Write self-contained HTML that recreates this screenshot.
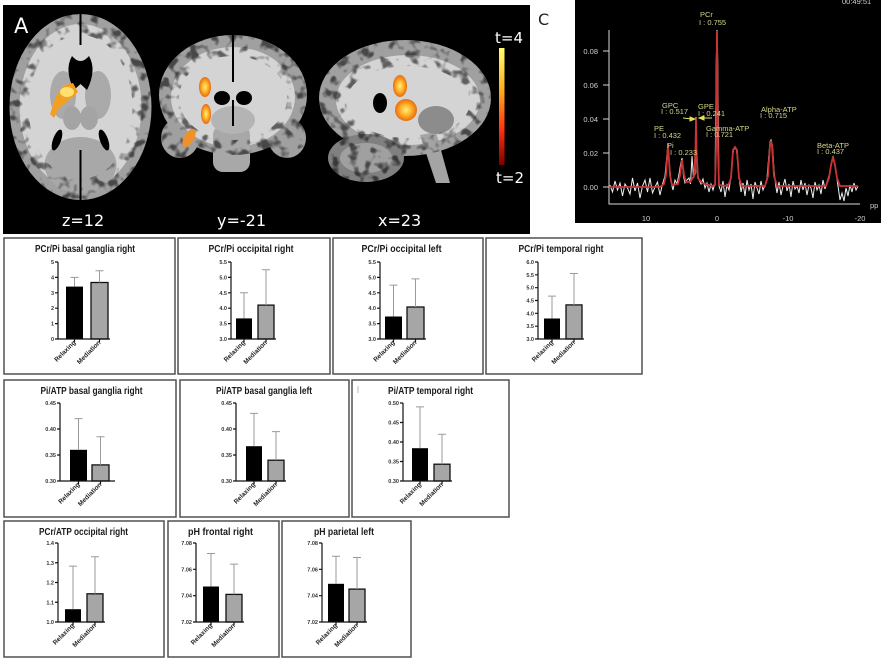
<!DOCTYPE html>
<html><head><meta charset="utf-8"><style>
html,body{margin:0;padding:0;background:#fff;}
svg{display:block;}
.t{font-family:"Liberation Sans",sans-serif;font-weight:bold;fill:#1a1a1a;}
.tk{font-family:"Liberation Sans",sans-serif;font-weight:bold;font-size:5.5px;fill:#333;}
.xl{font-family:"Liberation Sans",sans-serif;font-weight:bold;font-size:6.5px;fill:#222;}
.ax{stroke:#111;stroke-width:1.2;fill:none;}
.eb{stroke:#9a9a9a;stroke-width:1;fill:none;}
.bx{fill:#fff;stroke:#505050;stroke-width:1.5;}
.sp{font-family:"Liberation Sans",sans-serif;font-size:7.5px;fill:#d6d68c;}
.sa{font-family:"Liberation Sans",sans-serif;font-size:7.5px;fill:#d0d0d0;}
.w{font-family:"DejaVu Sans",sans-serif;fill:#fff;}
</style></head><body>
<svg width="883" height="661" viewBox="0 0 883 661" xmlns="http://www.w3.org/2000/svg">
<defs>
<linearGradient id="cb" x1="0" y1="0" x2="0" y2="1">
<stop offset="0" stop-color="#ffff70"/><stop offset="0.35" stop-color="#ffb020"/><stop offset="0.7" stop-color="#ff3010"/><stop offset="1" stop-color="#7a0000"/>
</linearGradient>
<radialGradient id="act"><stop offset="0" stop-color="#ffee80"/><stop offset="0.5" stop-color="#ffb428"/><stop offset="1" stop-color="#e86a10"/></radialGradient>
<filter id="tx" x="0" y="0" width="1" height="1" color-interpolation-filters="sRGB">
<feTurbulence type="fractalNoise" baseFrequency="0.1" numOctaves="2" seed="7"/>
<feColorMatrix type="matrix" values="0 0 0 0 0  0 0 0 0 0  0 0 0 0 0  -5 0 0 0 2.5"/>
</filter>
<mask id="rim" maskUnits="userSpaceOnUse" x="0" y="0" width="540" height="240">
<rect x="0" y="0" width="540" height="240" fill="#000"/>
<g fill="#fff">
<ellipse cx="80.5" cy="107" rx="71" ry="93"/>
<ellipse cx="233" cy="95" rx="74" ry="60"/>
<ellipse cx="180" cy="138" rx="19" ry="20"/>
<ellipse cx="287" cy="138" rx="19" ry="20"/>
<ellipse cx="405" cy="98" rx="86" ry="58"/>
<ellipse cx="366" cy="158" rx="38" ry="24"/>
</g>
<g fill="#000">
<ellipse cx="80.5" cy="107" rx="52" ry="72"/>
<ellipse cx="233" cy="98" rx="54" ry="42"/>
<ellipse cx="408" cy="102" rx="62" ry="36"/>
</g>
</mask>
</defs>
<rect width="883" height="661" fill="#fff"/>

<!-- Panel A -->
<rect x="3" y="5" width="527" height="229" fill="#000"/>
<!-- axial -->
<ellipse cx="80.5" cy="107" rx="71" ry="93" fill="#a0a0a0"/>
<ellipse cx="80.5" cy="107" rx="61" ry="83" fill="#d4d4d4"/>
<ellipse cx="63" cy="95" rx="13" ry="24" fill="#aaaaaa"/>
<ellipse cx="98" cy="95" rx="13" ry="24" fill="#aaaaaa"/>
<ellipse cx="72" cy="118" rx="9" ry="12" fill="#a4a4a4"/>
<ellipse cx="89" cy="118" rx="9" ry="12" fill="#a4a4a4"/>
<ellipse cx="80.5" cy="165" rx="36" ry="28" fill="#a8a8a8"/>
<!-- coronal -->
<ellipse cx="180" cy="138" rx="19" ry="20" fill="#a0a0a0"/>
<ellipse cx="287" cy="138" rx="19" ry="20" fill="#a0a0a0"/>
<ellipse cx="233" cy="95" rx="74" ry="60" fill="#a0a0a0"/>
<ellipse cx="233" cy="97" rx="62" ry="50" fill="#d4d4d4"/>
<rect x="213" y="125" width="37" height="47" rx="10" fill="#a8a8a8"/>
<ellipse cx="233" cy="120" rx="22" ry="14" fill="#b4b4b4"/>
<!-- sagittal -->
<ellipse cx="405" cy="98" rx="86" ry="58" fill="#a0a0a0"/>
<ellipse cx="408" cy="100" rx="72" ry="45" fill="#d4d4d4"/>
<ellipse cx="366" cy="158" rx="38" ry="24" fill="#808080"/>
<ellipse cx="366" cy="158" rx="26" ry="15" fill="#a0a0a0"/>
<path d="M420,135 L436,183 L450,183 L436,132 Z" fill="#a4a4a4"/>
<ellipse cx="436" cy="120" rx="18" ry="14" fill="#8c8c8c"/>
<!-- cortex texture -->
<g mask="url(#rim)" opacity="0.55"><rect x="3" y="5" width="500" height="229" fill="#000" filter="url(#tx)"/></g>
<!-- dark structures -->
<path d="M72,56 Q64,70 74,90 L80.5,84 L87,90 Q97,70 89,56 Q80.5,66 72,56 Z" fill="#000"/>
<ellipse cx="57" cy="140" rx="4" ry="11" transform="rotate(20 57 140)" fill="#000"/>
<ellipse cx="104" cy="140" rx="4" ry="11" transform="rotate(-20 104 140)" fill="#000"/>
<line x1="80.5" y1="14" x2="80.5" y2="45" stroke="#000" stroke-width="2"/>
<line x1="80.5" y1="150" x2="80.5" y2="200" stroke="#000" stroke-width="2"/>
<line x1="233" y1="35" x2="233" y2="82" stroke="#000" stroke-width="2"/>
<ellipse cx="222" cy="98" rx="8" ry="7" fill="#000"/>
<ellipse cx="244" cy="98" rx="8" ry="7" fill="#000"/>
<line x1="233" y1="100" x2="233" y2="126" stroke="#000" stroke-width="2"/>
<ellipse cx="380" cy="103" rx="7" ry="10" fill="#000"/>
<!-- activations -->
<path d="M50,114 L56,96 L64,85 L73,83 L78,92 L68,101 L59,108 L54,118 Z" fill="#f2a024"/>
<ellipse cx="67" cy="92" rx="7" ry="5" fill="#ffe070"/>
<ellipse cx="205" cy="87" rx="6" ry="10" fill="url(#act)"/>
<ellipse cx="206" cy="114" rx="5" ry="10" fill="url(#act)"/>
<ellipse cx="189" cy="138" rx="5" ry="10" transform="rotate(30 189 138)" fill="#f0902a"/>
<ellipse cx="400" cy="86" rx="7" ry="11" fill="url(#act)"/>
<ellipse cx="406" cy="110" rx="11" ry="11" fill="url(#act)"/>
<!-- colorbar -->
<rect x="499" y="48" width="5.5" height="117" fill="url(#cb)"/>
<text class="w" x="14" y="33" font-size="21">A</text>
<text class="w" x="62" y="226" font-size="16">z=12</text>
<text class="w" x="217" y="226" font-size="16">y=-21</text>
<text class="w" x="378" y="226" font-size="16">x=23</text>
<text class="w" x="495" y="43" font-size="15">t=4</text>
<text class="w" x="496" y="183" font-size="15">t=2</text>
<text x="538" y="25" font-family="DejaVu Sans,sans-serif" font-size="16" fill="#222">C</text>

<!-- Panel C -->
<rect x="575" y="0" width="306" height="223" fill="#000"/>
<g stroke="#d8d8d8" stroke-width="1" fill="none">
<path d="M609,30 V204 H860"/>
<path d="M603,51 H609 M603,85 H609 M603,119 H609 M603,153 H609 M603,187 H609"/>
</g>
<text class="sa" x="598" y="54" text-anchor="end">0.08</text>
<text class="sa" x="598" y="88" text-anchor="end">0.06</text>
<text class="sa" x="598" y="122" text-anchor="end">0.04</text>
<text class="sa" x="598" y="156" text-anchor="end">0.02</text>
<text class="sa" x="598" y="190" text-anchor="end">0.00</text>
<text class="sa" x="646" y="221" text-anchor="middle">10</text>
<text class="sa" x="717" y="221" text-anchor="middle">0</text>
<text class="sa" x="788" y="221" text-anchor="middle">-10</text>
<text class="sa" x="860" y="221" text-anchor="middle">-20</text>
<text class="sa" x="870" y="208">pp</text>
<text class="sa" x="842" y="4">00:49:51</text>
<polyline fill="none" stroke="#efefef" stroke-width="1" points="610,185 612.5,192 615,181 617.5,190 620,183 622.5,196 625,184 627.5,188 630,194 632.5,178 635,191 637.5,183 640,198 642.5,186 645,180 647.5,192 650,178 652.5,193 655,187 657.5,182 660,195 662.5,184 665,176 666.5,160 668,143 669.5,165 671,182 673,190 675,180 677,184 679,174 680.5,165 682,158 683.5,176 685,183 687,180 689,178 690.5,184 692,156 693.5,178 695,174 696,117 697,172 699,180 701,184 703,179 705,188 707,183 709,192 711,184 713,190 715,183 716.3,60 717,30 717.7,60 719,186 721,192 723,181 725,197 727,185 729,190 731,176 732.5,158 733.5,150 735,148 736.5,150 738,165 739.5,180 741,192 743,183 745,196 747,180 749,190 751,184 753,199 755,182 757,188 759,194 761,181 763,190 765,185 767,178 768.5,160 770,142 771,140 772.5,146 774,170 775.5,184 777,193 779,182 781,195 783,186 785,179 787,191 789,184 791,197 793,181 795,189 797,186 799,193 801,180 803,190 805,183 807,195 809,185 811,188 813,198 815,182 817,190 819,185 821,194 823,180 825,189 827,182 829,176 830.5,170 832,160 833,157 834.5,164 836,172 838,186 840,200 842,193 844,201 846,188 848,196 850,185 852,192 854,183 856,190 858,186"/>
<polyline fill="none" stroke="#c83434" stroke-width="1.8" points="610,187 660,187 664,184 666,175 668,145 670,175 672,185 678,184 680,175 682,160 684,175 686,182 690,182 694,176 695.5,150 696,118 696.5,150 698,178 702,183 712,186 715,185 716,150 717,31 718,150 719,185 728,186 731,178 733,150 735,147 737,150 739,178 742,186 765,186 768,176 770,145 771,141 772,146 774,176 777,186 826,186 829,178 831,165 833,157 835,165 837,178 840,186 858,186"/>
<text class="sp" x="700" y="17">PCr</text>
<text class="sp" x="699" y="25">I : 0.755</text>
<text class="sp" x="662" y="108">GPC</text>
<text class="sp" x="661" y="114">I : 0.517</text>
<text class="sp" x="698" y="109">GPE</text>
<text class="sp" x="698" y="116">I : 0.241</text>
<text class="sp" x="654" y="131">PE</text>
<text class="sp" x="654" y="138">I : 0.432</text>
<text class="sp" x="667" y="148">Pi</text>
<text class="sp" x="670" y="155">I : 0.233</text>
<text class="sp" x="706" y="131">Gamma-ATP</text>
<text class="sp" x="706" y="137">I : 0.721</text>
<text class="sp" x="761" y="112">Alpha-ATP</text>
<text class="sp" x="760" y="118">I : 0.715</text>
<text class="sp" x="817" y="148">Beta-ATP</text>
<text class="sp" x="817" y="154">I : 0.437</text>
<g stroke="#e0e060" stroke-width="1" fill="#e0e060">
<line x1="683" y1="118" x2="692" y2="119"/><polygon points="695,119 690,117 690,121"/>
<line x1="712" y1="118" x2="702" y2="118"/><polygon points="699,118 704,116 704,120"/>
</g>

<!-- Panel B -->
<text x="11" y="265" font-family="Liberation Sans,sans-serif" font-size="22" fill="#111">B</text>

<rect class="bx" x="4" y="238" width="171" height="136"/>
<rect class="bx" x="178" y="238" width="152" height="136"/>
<rect class="bx" x="333" y="238" width="150" height="136"/>
<rect class="bx" x="486" y="238" width="156" height="136"/>
<rect class="bx" x="4" y="380" width="172" height="137"/>
<rect class="bx" x="180" y="380" width="169" height="137"/>
<rect class="bx" x="352" y="380" width="157" height="137"/>
<rect class="bx" x="4" y="521" width="160" height="136"/>
<rect class="bx" x="168" y="521" width="111" height="136"/>
<rect class="bx" x="282" y="521" width="129" height="136"/>

<!-- C1 -->
<text class="t" x="85" y="252" font-size="10" text-anchor="middle" textLength="100" lengthAdjust="spacingAndGlyphs">PCr/Pi basal ganglia right</text>
<rect x="66" y="286.6" width="17" height="52.4" fill="#000"/>
<rect x="91" y="282.5" width="17" height="56.5" fill="#a6a6a6" stroke="#111" stroke-width="1.3"/>
<path class="eb" d="M74.5,286.6 V277.4 M70.5,277.4 H78.5 M99.5,282.5 V270.8 M95.5,270.8 H103.5"/>
<path class="ax" d="M58,262 V339 H110 M55,262 H58 M55,277.4 H58 M55,292.8 H58 M55,308.2 H58 M55,323.6 H58 M55,339 H58 M74.5,339 V342 M99.5,339 V342"/>
<text class="tk" x="54" y="264" text-anchor="end">5</text>
<text class="tk" x="54" y="279.4" text-anchor="end">4</text>
<text class="tk" x="54" y="294.8" text-anchor="end">3</text>
<text class="tk" x="54" y="310.2" text-anchor="end">2</text>
<text class="tk" x="54" y="325.6" text-anchor="end">1</text>
<text class="tk" x="54" y="341" text-anchor="end">0</text>
<text class="xl" transform="translate(76,343) rotate(-45)" text-anchor="end">Relaxing</text>
<text class="xl" transform="translate(101,343) rotate(-45)" text-anchor="end">Mediation</text>

<!-- C2 -->
<text class="t" x="251" y="252" font-size="10" text-anchor="middle" textLength="85" lengthAdjust="spacingAndGlyphs">PCr/Pi occipital right</text>
<rect x="236" y="318.4" width="16" height="20.6" fill="#000"/>
<rect x="258" y="305.1" width="16" height="33.9" fill="#a6a6a6" stroke="#111" stroke-width="1.3"/>
<path class="eb" d="M244,318.4 V292.8 M240,292.8 H248 M266,305.1 V269.7 M262,269.7 H270"/>
<path class="ax" d="M231,262 V339 H276 M228,262 H231 M228,277.4 H231 M228,292.8 H231 M228,308.2 H231 M228,323.6 H231 M228,339 H231 M244,339 V342 M266,339 V342"/>
<text class="tk" x="227" y="264" text-anchor="end">5.5</text>
<text class="tk" x="227" y="279.4" text-anchor="end">5.0</text>
<text class="tk" x="227" y="294.8" text-anchor="end">4.5</text>
<text class="tk" x="227" y="310.2" text-anchor="end">4.0</text>
<text class="tk" x="227" y="325.6" text-anchor="end">3.5</text>
<text class="tk" x="227" y="341" text-anchor="end">3.0</text>
<text class="xl" transform="translate(245.5,343) rotate(-45)" text-anchor="end">Relaxing</text>
<text class="xl" transform="translate(267.5,343) rotate(-45)" text-anchor="end">Mediation</text>

<!-- C3 -->
<text class="t" x="401.5" y="252" font-size="10" text-anchor="middle" textLength="80" lengthAdjust="spacingAndGlyphs">PCr/Pi occipital left</text>
<rect x="385" y="316.5" width="17" height="22.5" fill="#000"/>
<rect x="407" y="307" width="17" height="32" fill="#a6a6a6" stroke="#111" stroke-width="1.3"/>
<path class="eb" d="M393.5,316.5 V285.1 M389.5,285.1 H397.5 M415.5,307 V278.9 M411.5,278.9 H419.5"/>
<path class="ax" d="M380,262 V339 H426 M377,262 H380 M377,277.4 H380 M377,292.8 H380 M377,308.2 H380 M377,323.6 H380 M377,339 H380 M393.5,339 V342 M415.5,339 V342"/>
<text class="tk" x="376" y="264" text-anchor="end">5.5</text>
<text class="tk" x="376" y="279.4" text-anchor="end">5.0</text>
<text class="tk" x="376" y="294.8" text-anchor="end">4.5</text>
<text class="tk" x="376" y="310.2" text-anchor="end">4.0</text>
<text class="tk" x="376" y="325.6" text-anchor="end">3.5</text>
<text class="tk" x="376" y="341" text-anchor="end">3.0</text>
<text class="xl" transform="translate(395,343) rotate(-45)" text-anchor="end">Relaxing</text>
<text class="xl" transform="translate(417,343) rotate(-45)" text-anchor="end">Mediation</text>

<!-- C4 -->
<text class="t" x="561" y="252" font-size="10" text-anchor="middle" textLength="85" lengthAdjust="spacingAndGlyphs">PCr/Pi temporal right</text>
<rect x="544" y="318.5" width="16" height="20.5" fill="#000"/>
<rect x="566" y="304.9" width="16" height="34.1" fill="#a6a6a6" stroke="#111" stroke-width="1.3"/>
<path class="eb" d="M552,318.5 V296.1 M548,296.1 H556 M574,304.9 V273.5 M570,273.5 H578"/>
<path class="ax" d="M538,262 V339 H584 M535,262 H538 M535,274.8 H538 M535,287.7 H538 M535,300.5 H538 M535,313.3 H538 M535,326.2 H538 M535,339 H538 M552,339 V342 M574,339 V342"/>
<text class="tk" x="534" y="264" text-anchor="end">6.0</text>
<text class="tk" x="534" y="276.8" text-anchor="end">5.5</text>
<text class="tk" x="534" y="289.7" text-anchor="end">5.0</text>
<text class="tk" x="534" y="302.5" text-anchor="end">4.5</text>
<text class="tk" x="534" y="315.3" text-anchor="end">4.0</text>
<text class="tk" x="534" y="328.2" text-anchor="end">3.5</text>
<text class="tk" x="534" y="341" text-anchor="end">3.0</text>
<text class="xl" transform="translate(553.5,343) rotate(-45)" text-anchor="end">Relaxing</text>
<text class="xl" transform="translate(575.5,343) rotate(-45)" text-anchor="end">Mediation</text>

<!-- C5 -->
<text class="t" x="91.5" y="394" font-size="10" text-anchor="middle" textLength="102" lengthAdjust="spacingAndGlyphs">Pi/ATP basal ganglia right</text>
<rect x="70" y="449.8" width="17" height="31.2" fill="#000"/>
<rect x="92" y="464.9" width="17" height="16.1" fill="#a6a6a6" stroke="#111" stroke-width="1.3"/>
<path class="eb" d="M78.5,449.8 V418.6 M74.5,418.6 H82.5 M100.5,464.9 V436.8 M96.5,436.8 H104.5"/>
<path class="ax" d="M60,403 V481 H115 M57,403 H60 M57,429 H60 M57,455 H60 M57,481 H60 M78.5,481 V484 M100.5,481 V484"/>
<text class="tk" x="56" y="405" text-anchor="end">0.45</text>
<text class="tk" x="56" y="431" text-anchor="end">0.40</text>
<text class="tk" x="56" y="457" text-anchor="end">0.35</text>
<text class="tk" x="56" y="483" text-anchor="end">0.30</text>
<text class="xl" transform="translate(80,485) rotate(-45)" text-anchor="end">Relaxing</text>
<text class="xl" transform="translate(102,485) rotate(-45)" text-anchor="end">Mediation</text>

<!-- C6 -->
<text class="t" x="264" y="394" font-size="10" text-anchor="middle" textLength="96" lengthAdjust="spacingAndGlyphs">Pi/ATP basal ganglia left</text>
<rect x="246" y="446.2" width="16" height="34.8" fill="#000"/>
<rect x="268" y="460.2" width="16" height="20.8" fill="#a6a6a6" stroke="#111" stroke-width="1.3"/>
<path class="eb" d="M254,446.2 V413.4 M250,413.4 H258 M276,460.2 V431.6 M272,431.6 H280"/>
<path class="ax" d="M236,403 V481 H286 M233,403 H236 M233,429 H236 M233,455 H236 M233,481 H236 M254,481 V484 M276,481 V484"/>
<text class="tk" x="232" y="405" text-anchor="end">0.45</text>
<text class="tk" x="232" y="431" text-anchor="end">0.40</text>
<text class="tk" x="232" y="457" text-anchor="end">0.35</text>
<text class="tk" x="232" y="483" text-anchor="end">0.30</text>
<text class="xl" transform="translate(255.5,485) rotate(-45)" text-anchor="end">Relaxing</text>
<text class="xl" transform="translate(277.5,485) rotate(-45)" text-anchor="end">Mediation</text>

<!-- C7 -->
<line x1="358" y1="386" x2="358" y2="393" stroke="#bbb" stroke-width="1"/>
<text class="t" x="430.5" y="394" font-size="10" text-anchor="middle" textLength="85" lengthAdjust="spacingAndGlyphs">Pi/ATP temporal right</text>
<rect x="412" y="448.2" width="16" height="32.8" fill="#000"/>
<rect x="434" y="464.2" width="16" height="16.8" fill="#a6a6a6" stroke="#111" stroke-width="1.3"/>
<path class="eb" d="M420,448.2 V406.9 M416,406.9 H424 M442,464.2 V434.2 M438,434.2 H446"/>
<path class="ax" d="M403,403 V481 H452 M400,403 H403 M400,422.5 H403 M400,442 H403 M400,461.5 H403 M400,481 H403 M420,481 V484 M442,481 V484"/>
<text class="tk" x="399" y="405" text-anchor="end">0.50</text>
<text class="tk" x="399" y="424.5" text-anchor="end">0.45</text>
<text class="tk" x="399" y="444" text-anchor="end">0.40</text>
<text class="tk" x="399" y="463.5" text-anchor="end">0.35</text>
<text class="tk" x="399" y="483" text-anchor="end">0.30</text>
<text class="xl" transform="translate(421.5,485) rotate(-45)" text-anchor="end">Relaxing</text>
<text class="xl" transform="translate(443.5,485) rotate(-45)" text-anchor="end">Mediation</text>

<!-- C8 -->
<text class="t" x="83.5" y="535" font-size="10" text-anchor="middle" textLength="89" lengthAdjust="spacingAndGlyphs">PCr/ATP occipital right</text>
<rect x="65" y="609.2" width="16" height="12.8" fill="#000"/>
<rect x="87" y="593.8" width="16" height="28.2" fill="#a6a6a6" stroke="#111" stroke-width="1.3"/>
<path class="eb" d="M73,609.2 V566.1 M69,566.1 H77 M95,593.8 V556.8 M91,556.8 H99"/>
<path class="ax" d="M58,543 V622 H105 M55,543 H58 M55,562.75 H58 M55,582.5 H58 M55,602.25 H58 M55,622 H58 M73,622 V625 M95,622 V625"/>
<text class="tk" x="54" y="545" text-anchor="end">1.4</text>
<text class="tk" x="54" y="564.75" text-anchor="end">1.3</text>
<text class="tk" x="54" y="584.5" text-anchor="end">1.2</text>
<text class="tk" x="54" y="604.25" text-anchor="end">1.1</text>
<text class="tk" x="54" y="624" text-anchor="end">1.0</text>
<text class="xl" transform="translate(74.5,626) rotate(-45)" text-anchor="end">Relaxing</text>
<text class="xl" transform="translate(96.5,626) rotate(-45)" text-anchor="end">Mediation</text>

<!-- C9 -->
<text class="t" x="220.5" y="535" font-size="10" text-anchor="middle" textLength="65" lengthAdjust="spacingAndGlyphs">pH frontal right</text>
<rect x="203" y="586.5" width="16" height="35.5" fill="#000"/>
<rect x="226" y="594.4" width="16" height="27.6" fill="#a6a6a6" stroke="#111" stroke-width="1.3"/>
<path class="eb" d="M211,586.5 V553.5 M207,553.5 H215 M234,594.4 V564.1 M230,564.1 H238"/>
<path class="ax" d="M196,543 V622 H244 M193,543 H196 M193,569.3 H196 M193,595.7 H196 M193,622 H196 M211,622 V625 M234,622 V625"/>
<text class="tk" x="192" y="545" text-anchor="end">7.08</text>
<text class="tk" x="192" y="571.3" text-anchor="end">7.06</text>
<text class="tk" x="192" y="597.7" text-anchor="end">7.04</text>
<text class="tk" x="192" y="624" text-anchor="end">7.02</text>
<text class="xl" transform="translate(212.5,626) rotate(-45)" text-anchor="end">Relaxing</text>
<text class="xl" transform="translate(235.5,626) rotate(-45)" text-anchor="end">Mediation</text>

<!-- C10 -->
<text class="t" x="344" y="535" font-size="10" text-anchor="middle" textLength="60" lengthAdjust="spacingAndGlyphs">pH parietal left</text>
<rect x="328" y="583.8" width="16" height="38.2" fill="#000"/>
<rect x="349" y="589.1" width="16" height="32.9" fill="#a6a6a6" stroke="#111" stroke-width="1.3"/>
<path class="eb" d="M336,583.8 V556.2 M332,556.2 H340 M357,589.1 V557.5 M353,557.5 H361"/>
<path class="ax" d="M322,543 V622 H367 M319,543 H322 M319,569.3 H322 M319,595.7 H322 M319,622 H322 M336,622 V625 M357,622 V625"/>
<text class="tk" x="318" y="545" text-anchor="end">7.08</text>
<text class="tk" x="318" y="571.3" text-anchor="end">7.06</text>
<text class="tk" x="318" y="597.7" text-anchor="end">7.04</text>
<text class="tk" x="318" y="624" text-anchor="end">7.02</text>
<text class="xl" transform="translate(337.5,626) rotate(-45)" text-anchor="end">Relaxing</text>
<text class="xl" transform="translate(358.5,626) rotate(-45)" text-anchor="end">Mediation</text>
</svg>
</body></html>
